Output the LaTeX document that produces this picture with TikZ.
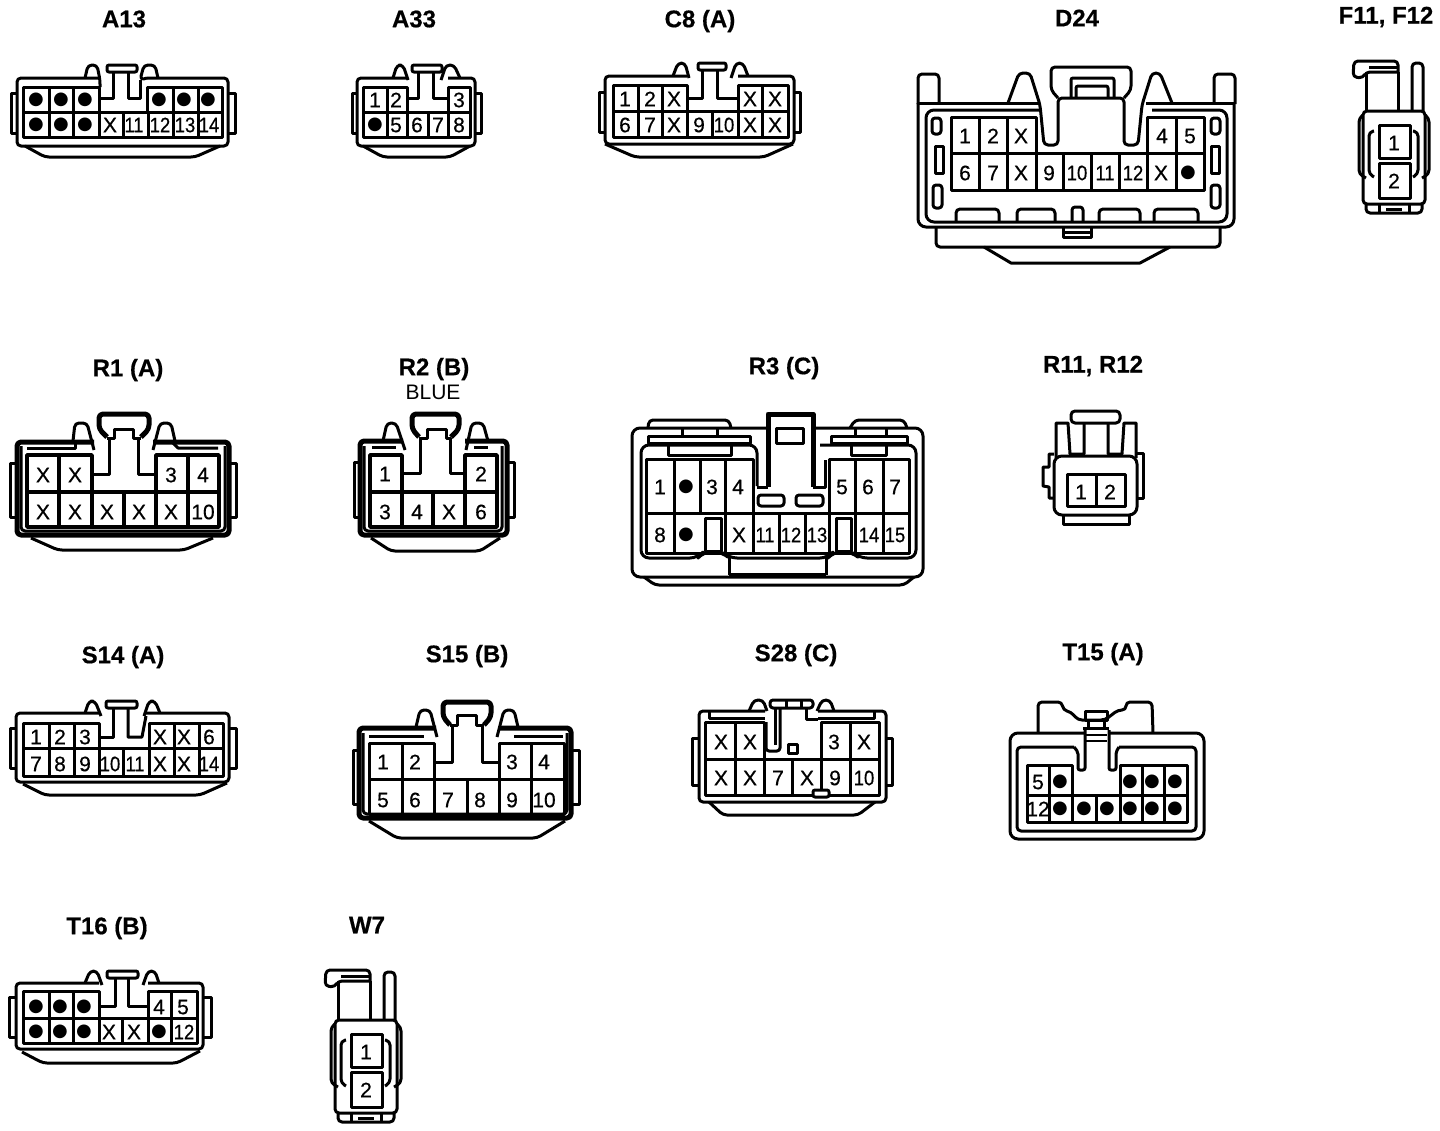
\documentclass[tikz,border=0pt]{standalone}
\usepackage{fontspec}
\usepackage{graphicx}
\setmainfont[BoldFeatures={FakeBold=0.5}]{Liberation Sans}
\newfontfamily\pinfont[FakeBold=0.5]{Liberation Sans}
\newfontfamily\dvfont{DejaVu Sans}
\newcommand\D{{\dvfont\fontsize{18}{18}\selectfont ●}}
\newcommand\NN[1]{\scalebox{0.88}[1]{#1}}
\newcommand\pins[3]{\foreach \cx/\lab [count=\ci] in {#3} {\node[pinlabel] (#1-\ci) at (\cx,#2) {\lab};}}
% grid: x0, end of top-left block, start of top-right block, xn, ytop, ymid, ybot, top verticals, bottom verticals
\newcommand\cgrid[9]{%
 \draw (#1,#5) -- (#2,#5) -- (#2,#6) -- (#3,#6) -- (#3,#5) -- (#4,#5) -- (#4,#7) -- (#1,#7) -- cycle;
 \draw (#1,#6) -- (#4,#6);
 \foreach \vx in {#8} {\draw (\vx,#5) -- (\vx,#6);}
 \foreach \vx in {#9} {\draw (\vx,#6) -- (\vx,#7);}}
\newcommand\wings[6]{% outer-left, inner-left, inner-right, outer-right, y1, y2
 \draw (#2,#5) -- (#1,#5) -- (#1,#6) -- (#2,#6);
 \draw (#3,#5) -- (#4,#5) -- (#4,#6) -- (#3,#6);}
\newcommand\plug[3]{\begin{scope}[shift={(#2,#3)}]
 \draw[rc] (370,981) -- (370,970) -- (326,970) -- (325,986) -- (335,987) -- (338,981) -- (370,981);
 \draw (341,976) -- (370,976);
 \draw (338,981) -- (338,1020); \draw (370,981) -- (370,1020);
 \draw[rc] (384,1020) -- (384,972) -- (395,972) -- (395,1020);
 \draw[rc] (335,1113) -- (335,1020) -- (397,1020) -- (397,1113) -- cycle;
 \draw[rc] (335,1024) -- (331,1027) -- (331,1083) -- (338,1087);
 \draw[rc] (397,1024) -- (401,1027) -- (401,1083) -- (394,1087);
 \draw[rc] (346,1040) -- (341,1041) -- (341,1083) -- (346,1086);
 \draw[rc] (385,1040) -- (390,1041) -- (390,1083) -- (385,1086);
 \draw[rc] (338,1113) -- (338,1122) -- (394,1122) -- (394,1113);
 \draw (351,1113) -- (351,1122); \draw (381,1113) -- (381,1122); \draw (358,1118) -- (374,1118);
 \draw (351,1034) rectangle (382,1067);
 \draw (351,1072) rectangle (382,1107);
 \node[pinlabel] (#1-1) at (366,1052) {1};
 \node[pinlabel] (#1-2) at (366,1090) {2};
\end{scope}}
\tikzset{
 pinlabel/.style={inner sep=0pt,font=\pinfont\fontsize{21}{21}\selectfont},
 ctitle/.style={inner sep=0pt,font=\fontsize{24}{24}\selectfont\bfseries},
 rc/.style={rounded corners=4pt},
 rb/.style={rounded corners=8pt},
 heavy/.style={line width=5pt}
}
\begin{document}
\begin{tikzpicture}[x=1pt,y=-1pt,line width=3pt,line join=round]
\useasboundingbox (0,0) rectangle (1440,1130);
\fill[white] (0,0) rectangle (1440,1130);
% titles
\node[ctitle] (tA13) at (124,19) {A13};
\node[ctitle] (tA33) at (414,19) {A33};
\node[ctitle] (tC8) at (700,21) {C8 (A)};
\node[ctitle] (tD24) at (1077,18) {D24};
\node[ctitle] (tF11) at (1386,17) {F11, F12};
\node[ctitle] (tR1) at (128,370) {R1 (A)};
\node[ctitle] (tR2) at (434,369) {R2 (B)};
\node[inner sep=0pt,font=\fontsize{21}{21}\selectfont] (tBlue) at (433,392) {BLUE};
\node[ctitle] (tR3) at (784,368) {R3 (C)};
\node[ctitle] (tR11) at (1093,366) {R11, R12};
\node[ctitle] (tS14) at (123,657) {S14 (A)};
\node[ctitle] (tS15) at (467,656) {S15 (B)};
\node[ctitle] (tS28) at (796,655) {S28 (C)};
\node[ctitle] (tT15) at (1103,654) {T15 (A)};
\node[ctitle] (tT16) at (107,928) {T16 (B)};
\node[ctitle] (tW7) at (367,925) {W7};

% A13
\draw[rc] (99,78) -- (17,78) -- (17,146) -- (228,146) -- (228,78) -- (147,78);
\draw[rc] (25,146) -- (45,157) -- (195,157) -- (220,146);
\wings{11}{17}{228}{235}{93}{133}
\draw[rc] (85,78) -- (88,65) -- (97,65) -- (100,80) -- (100,87);
\draw[rc] (147,78) -- (140,80) -- (144,65) -- (155,65) -- (158,78);
\draw[rc,rounded corners=2pt] (107,65) rectangle (137,72);
\draw (113,72) -- (113,98) -- (99,98);
\draw (128,72) -- (128,98) -- (140,98) -- (140,80);
\cgrid{23}{99}{147}{222}{87}{112}{137}{49,73,173,198}{49,73,99,123,148,173,198}
\pins{a13t}{100}{36/\D,61/\D,85/\D,159/\D,184/\D,208/\D}
\pins{a13b}{125}{36/\D,61/\D,85/\D,110/X,134/\NN{11},160/\NN{12},185/\NN{13},209/\NN{14}}

% A33
\draw[rc] (407,78) -- (357,78) -- (357,146) -- (475,146) -- (475,78) -- (448,78);
\draw[rc] (363,146) -- (383,157) -- (450,157) -- (470,146);
\wings{352}{357}{475}{481}{93}{133}
\draw[rc] (393,78) -- (397,65) -- (403,65) -- (408,80);
\draw[rc] (441,80) -- (446,65) -- (454,65) -- (460,78);
\draw[rc,rounded corners=2pt] (412,65) rectangle (442,72);
\draw (418,72) -- (418,98) -- (407,98);
\draw (433,72) -- (433,98) -- (448,98);
\cgrid{363}{407}{448}{470}{87}{112}{137}{387}{387,407,428,448}
\pins{a33t}{100}{375/1,396/2,459/3}
\pins{a33b}{125}{375/\D,396/5,417/6,438/7,459/8}

% C8
\draw[rc] (687,76) -- (605,76) -- (605,144) -- (794,144) -- (794,76) -- (738,76);
\draw[rc] (605,144) -- (635,157) -- (764,157) -- (793,144);
\wings{599}{605}{794}{800}{92}{132}
\draw[rc] (673,76) -- (678,63) -- (685,63) -- (689,78);
\draw[rc] (731,78) -- (736,63) -- (743,63) -- (748,76);
\draw[rc,rounded corners=2pt] (698,63) rectangle (726,70);
\draw (702,70) -- (702,98) -- (687,98);
\draw (717,70) -- (717,98) -- (738,98);
\cgrid{613}{687}{738}{788}{85}{111}{137}{638,662,762}{638,662,687,712,738,762}
\pins{c8t}{99}{625/1,650/2,674/X,750/X,775/X}
\pins{c8b}{125}{625/6,650/7,674/X,699/9,724/\NN{10},750/X,775/X}

% D24
\draw[rb] (918,103) -- (918,227) -- (1234,227) -- (1234,103);
\draw[rc] (918,104) -- (918,74) -- (939,74) -- (939,103);
\draw[rc] (1214,103) -- (1214,74) -- (1235,74) -- (1235,104);
\draw[rb] (918,103) -- (1040,103);
\draw[rb] (1146,103) -- (1234,103);
\draw[rb] (1040,110) -- (926,110) -- (926,222) -- (1227,222) -- (1227,110) -- (1152,110);
\draw[rc] (1008,103) -- (1019,73) -- (1030,73) -- (1040,105) -- (1044,145) -- (1058,145) -- (1058,98) -- (1124,98) -- (1124,145) -- (1138,145) -- (1142,105) -- (1152,73) -- (1160,73) -- (1172,103);
\draw[rc] (1058,98) -- (1051,90) -- (1051,67) -- (1131,67) -- (1131,90) -- (1124,98);
\draw[rc,rounded corners=2pt] (1071,98) -- (1071,78) -- (1114,78) -- (1114,98);
\draw[rc,rounded corners=2pt] (1076,98) -- (1076,86) -- (1108,86) -- (1108,98);
\cgrid{951}{1036}{1147}{1204}{117}{153}{190}{979,1007,1176}{979,1007,1036,1063,1091,1119,1147,1176}
\draw[rounded corners=3pt] (932,118) rectangle (941,134);
\draw (935,146) rectangle (943,173);
\draw[rounded corners=3pt] (933,185) rectangle (942,208);
\draw[rounded corners=3pt] (1211,118) rectangle (1220,134);
\draw (1211,146) rectangle (1219,173);
\draw[rounded corners=3pt] (1211,185) rectangle (1220,208);
\draw[rc] (956,222) -- (956,209) -- (999,209) -- (999,222);
\draw[rc] (1017,222) -- (1017,209) -- (1055,209) -- (1055,222);
\draw[rc] (1099,222) -- (1099,209) -- (1140,209) -- (1140,222);
\draw[rc] (1154,222) -- (1154,209) -- (1198,209) -- (1198,222);
\draw[rounded corners=3pt] (1072,222) -- (1072,207) -- (1083,207) -- (1083,222);
\draw (1063,227) -- (1063,237) -- (1091,237) -- (1091,227);
\draw (1063,232) -- (1091,232);
\draw[rc] (936,227) -- (936,247) -- (1220,247) -- (1220,227);
\draw (984,247) -- (1011,263) -- (1140,263) -- (1170,247);
\pins{d24t}{136}{965/1,993/2,1021/X,1162/4,1190/5}
\pins{d24b}{173}{965/6,993/7,1021/X,1049/9,1077/\NN{10},1105/\NN{11},1133/\NN{12},1161/X,1188/\D}

% F11, F12
\plug{f11}{1028}{-909}

% W7
\plug{w7}{0}{0}

% R1
\draw[heavy,rc] (94,442) -- (17,442) -- (17,535) -- (229,535) -- (229,442) -- (153,442);
\draw[rc] (21,446) -- (21,531) -- (225,531) -- (225,446);
\draw[rc] (31,538) -- (58,550) -- (184,550) -- (213,538);
\wings{10}{17}{229}{236}{463}{517}
\draw (27,448) -- (75,448) -- (75,443);
\draw (173,443) -- (178,448) -- (218,448);
\draw[rc] (73,441) -- (75,423) -- (87,423) -- (94,450);
\draw[rc] (153,450) -- (160,423) -- (171,423) -- (175,441);
\draw[heavy,rc] (107,437) -- (99,429) -- (99,414) -- (149,414) -- (149,429) -- (141,437);
\draw (107,438) -- (114,438) -- (114,429) -- (133,429) -- (133,438) -- (141,438);
\draw (109,438) -- (109,474) -- (92,474);
\draw (138,438) -- (138,474) -- (156,474);
\draw[line width=3.6pt] (27,455) -- (92,455) -- (92,492) -- (156,492) -- (156,455) -- (219,455) -- (219,527) -- (27,527) -- cycle;
\draw[line width=3.6pt] (27,492) -- (219,492);
\foreach \vx in {59,188} {\draw[line width=3.6pt] (\vx,455) -- (\vx,492);}
\foreach \vx in {59,92,124,156,188} {\draw[line width=3.6pt] (\vx,492) -- (\vx,527);}
\pins{r1t}{475}{43/X,75/X,171/3,203/4}
\pins{r1b}{512}{43/X,75/X,107/X,139/X,171/X,203/10}

% R2
\draw[heavy,rc] (403,441) -- (360,441) -- (360,535) -- (507,535) -- (507,441) -- (465,441);
\draw[rc] (364,446) -- (364,531) -- (502,531) -- (502,446);
\draw[rc] (371,538) -- (391,551) -- (480,551) -- (500,538);
\wings{354}{360}{507}{514}{462}{517}
\draw (372,447) -- (396,447);
\draw (474,447) -- (488,447);
\draw[rc] (383,441) -- (387,423) -- (396,423) -- (405,450);
\draw[rc] (466,450) -- (472,423) -- (483,423) -- (488,441);
\draw[heavy,rc] (419,437) -- (412,429) -- (412,414) -- (459,414) -- (459,429) -- (451,437);
\draw (419,438) -- (427,438) -- (427,429) -- (446,429) -- (446,438) -- (451,438);
\draw (420,438) -- (420,473) -- (402,473);
\draw (450,438) -- (450,473) -- (466,473);
\draw[line width=3.6pt] (370,455) -- (402,455) -- (402,492) -- (465,492) -- (465,455) -- (497,455) -- (497,527) -- (370,527) -- cycle;
\draw[line width=3.6pt] (370,492) -- (497,492);
\foreach \vx in {402,433,465} {\draw[line width=3.6pt] (\vx,492) -- (\vx,527);}
\pins{r2t}{474}{385/1,481/2}
\pins{r2b}{512}{385/3,417/4,449/X,481/6}

% R3
\draw[rb] (767,428) -- (632,428) -- (632,577) -- (923,577) -- (923,428) -- (816,428);
\draw[rc] (644,577) -- (655,585) -- (904,585) -- (914,577);
\draw[rc] (648,428) -- (649,420) -- (729,420) -- (731,428);
\draw (682,428) -- (682,436); \draw (717,428) -- (717,436);
\draw (648,436) rectangle (750,443);
\draw (668,443) -- (668,455) -- (731,455) -- (731,443);
\draw[rc] (850,428) -- (855,420) -- (904,420) -- (907,428);
\draw (855,428) -- (855,436); \draw (886,428) -- (886,436);
\draw (831,436) rectangle (907,443);
\draw (851,443) -- (851,455) -- (886,455) -- (886,443);
\draw[rb] (757,486) -- (757,445) -- (641,445) -- (641,558) -- (698,558) -- (703,552) -- (722,552) -- (729,558) -- (828,558) -- (833,552) -- (852,552) -- (859,558) -- (916,558) -- (916,445) -- (820,445);
\draw (729,558) -- (729,575); \draw (826,558) -- (826,575); \draw (729,574) -- (826,574);
\draw[line width=5pt] (768,487) -- (768,414) -- (813,414) -- (813,487);
\draw (757,487) -- (768,487);
\draw (813,487) -- (825,487) -- (825,460);
\draw (776,428) rectangle (803,443);
\draw (646,459) -- (753,459) -- (753,553) -- (646,553) -- cycle;
\draw (829,459) -- (909,459) -- (909,553) -- (829,553) -- cycle;
\draw (646,513) -- (829,513); \draw (829,513) -- (909,513);
\draw (753,553) -- (829,553);
\draw (674,459) -- (674,553); \draw (700,459) -- (700,513); \draw (725,459) -- (725,553);
\draw (855,459) -- (855,553); \draw (883,459) -- (883,553);
\draw (779,513) -- (779,553); \draw (805,513) -- (805,553);
\draw (705,551) -- (705,518) -- (721,518) -- (721,551) -- cycle;
\draw (836,551) -- (836,518) -- (851,518) -- (851,551) -- cycle;
\draw[rounded corners=3pt] (758,495) rectangle (784,506);
\draw[rounded corners=3pt] (796,495) rectangle (823,506);
\pins{r3t}{487}{660/1,686/\D,712/3,738/4,842/5,868/6,895/7}
\pins{r3b}{535}{660/8,686/\D,739/X,765/\NN{11},791/\NN{12},817/\NN{13},869/\NN{14},895/\NN{15}}

% R11, R12
\draw[rc] (1071,411) rectangle (1120,423);
\draw[rb] (1054,456) -- (1054,515) -- (1137,515) -- (1137,456) -- (1108,456) -- (1084,456) -- cycle;
\draw (1084,423) -- (1084,454) -- (1070,454) -- (1068,423) -- (1056,423) -- (1056,458);
\draw (1108,423) -- (1108,454) -- (1122,454) -- (1124,423) -- (1136,423) -- (1136,458);
\draw (1054,454) -- (1049,454) -- (1049,467) -- (1043,467) -- (1043,486) -- (1049,487) -- (1049,498) -- (1054,498);
\draw (1137,453) -- (1143,453) -- (1143,498) -- (1137,498);
\draw (1063,515) -- (1063,524) -- (1129,524) -- (1129,515);
\draw (1067,474) rectangle (1125,506);
\draw (1096,474) -- (1096,506);
\pins{r11}{492}{1081/1,1110/2}

% S14
\draw[rc] (99,713) -- (16,713) -- (16,782) -- (229,782) -- (229,713) -- (146,713);
\draw[rc] (23,784) -- (45,795) -- (200,795) -- (227,783);
\wings{10}{16}{229}{236}{728}{768}
\draw[rc] (85,713) -- (89,701) -- (95,701) -- (101,716);
\draw[rc] (144,716) -- (149,701) -- (155,701) -- (160,713);
\draw[rc,rounded corners=2pt] (106,701) rectangle (137,708);
\draw (113,708) -- (113,737) -- (99,737);
\draw (128,708) -- (128,737) -- (142,737) -- (146,716);
\cgrid{23}{99}{149}{223}{723}{748}{776}{49,74,174,199}{49,74,99,123,149,174,199}
\pins{s14t}{737}{36/1,60/2,85/3,160/X,184/X,209/6}
\pins{s14b}{764}{36/7,60/8,85/9,110/\NN{10},135/\NN{11},160/X,184/X,209/\NN{14}}

% S15
\draw[heavy,rc] (436,728) -- (359,728) -- (359,818) -- (571,818) -- (571,728) -- (499,728);
\draw[rc] (363,733) -- (363,814) -- (567,814) -- (567,733);
\draw[rc] (369,821) -- (397,838) -- (537,838) -- (565,821);
\wings{353}{359}{571}{579}{750}{804}
\draw (369,736) -- (424,736);
\draw (514,736) -- (563,736);
\draw[rc] (416,727) -- (420,710) -- (430,710) -- (437,737);
\draw[rc] (497,737) -- (504,710) -- (514,710) -- (518,727);
\draw[heavy,rc] (450,725) -- (443,717) -- (443,702) -- (491,702) -- (491,717) -- (484,725);
\draw (450,725) -- (457,725) -- (457,715) -- (476,715) -- (476,725) -- (484,725);
\draw (452,725) -- (452,762) -- (434,762);
\draw (482,725) -- (482,762) -- (499,762);
\cgrid{369}{434}{499}{564}{743}{779}{814}{402,531}{402,434,467,499,531}
\pins{s15t}{762}{383/1,415/2,512/3,544/4}
\pins{s15b}{800}{383/5,415/6,448/7,480/8,512/9,544/10}

% S28
\draw[rc] (765,711) -- (699,711) -- (699,802) -- (886,802) -- (886,711) -- (818,711);
\draw[rc] (709,802) -- (723,815) -- (858,815) -- (875,802);
\wings{692}{699}{886}{892}{738}{785}
\draw (709,712) -- (709,718) -- (765,718);
\draw (818,718) -- (874,718) -- (874,712);
\draw[rc] (749,711) -- (754,700) -- (763,700) -- (767,711);
\draw[rc] (817,711) -- (822,700) -- (830,700) -- (834,711);
\draw[rc,rounded corners=3pt] (770,700) rectangle (813,708);
\draw (786,700) -- (786,708); \draw (801,700) -- (801,708);
\draw[rounded corners=3pt] (766,722) -- (766,751) -- (780,751) -- (780,708);
\draw (775,708) -- (775,745);
\draw (806,708) -- (806,719) -- (818,719);
\draw (788,744) rectangle (797,753);
\cgrid{705}{764}{821}{879}{722}{759}{795}{735,850}{735,764,792,821,850}
\draw[rounded corners=2pt,fill=white] (813,790) rectangle (829,797);
\pins{s28t}{742}{721/X,750/X,834/3,864/X}
\pins{s28b}{778}{721/X,750/X,778/7,807/X,835/9,864/\NN{10}}

% T15
\draw[rb] (1084,733) -- (1010,733) -- (1010,839) -- (1204,839) -- (1204,733) -- (1109,733);
\draw[rc] (1074,747) -- (1017,747) -- (1017,831) -- (1196,831) -- (1196,747) -- (1119,747);
\draw[rc] (1038,733) -- (1038,702) -- (1062,702) -- (1063,710) -- (1071,712) -- (1078,720) -- (1105,720) -- (1118,710) -- (1126,710) -- (1126,702) -- (1152,702) -- (1153,733);
\draw (1085,711) rectangle (1107,720);
\draw (1088,720) -- (1088,728) -- (1104,728) -- (1104,720);
\draw (1083,728) -- (1109,728);
\draw[line width=2pt] (1085,735) -- (1107,735); \draw[line width=2pt] (1085,741) -- (1107,741);
\draw[rounded corners=2pt] (1074,747) -- (1078,752) -- (1078,770) -- (1085,770) -- (1085,730);
\draw[rounded corners=2pt] (1109,730) -- (1109,770) -- (1116,770) -- (1116,752) -- (1119,747);
\cgrid{1027}{1072}{1120}{1187}{765}{795}{822}{1049,1142,1164}{1049,1072,1096,1120,1142,1164}
\pins{t15t}{782}{1038/5,1060/\D,1130/\D,1152/\D,1175/\D}
\pins{t15b}{809}{1038/12,1060/\D,1084/\D,1107/\D,1130/\D,1152/\D,1175/\D}

% T16
\draw[rc] (99,983) -- (16,983) -- (16,1049) -- (203,1049) -- (203,983) -- (148,983);
\draw[rc] (22,1052) -- (43,1063) -- (177,1063) -- (200,1051);
\wings{9}{16}{203}{211}{997}{1037}
\draw[rc] (85,983) -- (90,971) -- (97,971) -- (102,985);
\draw[rc] (143,985) -- (148,971) -- (155,971) -- (159,983);
\draw[rc,rounded corners=2pt] (107,971) rectangle (138,978);
\draw (115,978) -- (115,1006) -- (99,1006);
\draw (128,978) -- (128,1006) -- (148,1006);
\cgrid{23}{99}{148}{197}{991}{1018}{1043}{49,73,171}{49,73,99,122,148,171}
\pins{t16t}{1007}{36/\D,60/\D,84/\D,159/4,183/5}
\pins{t16b}{1032}{36/\D,60/\D,84/\D,109/X,134/X,159/\D,184/\NN{12}}
\end{tikzpicture}
\end{document}
